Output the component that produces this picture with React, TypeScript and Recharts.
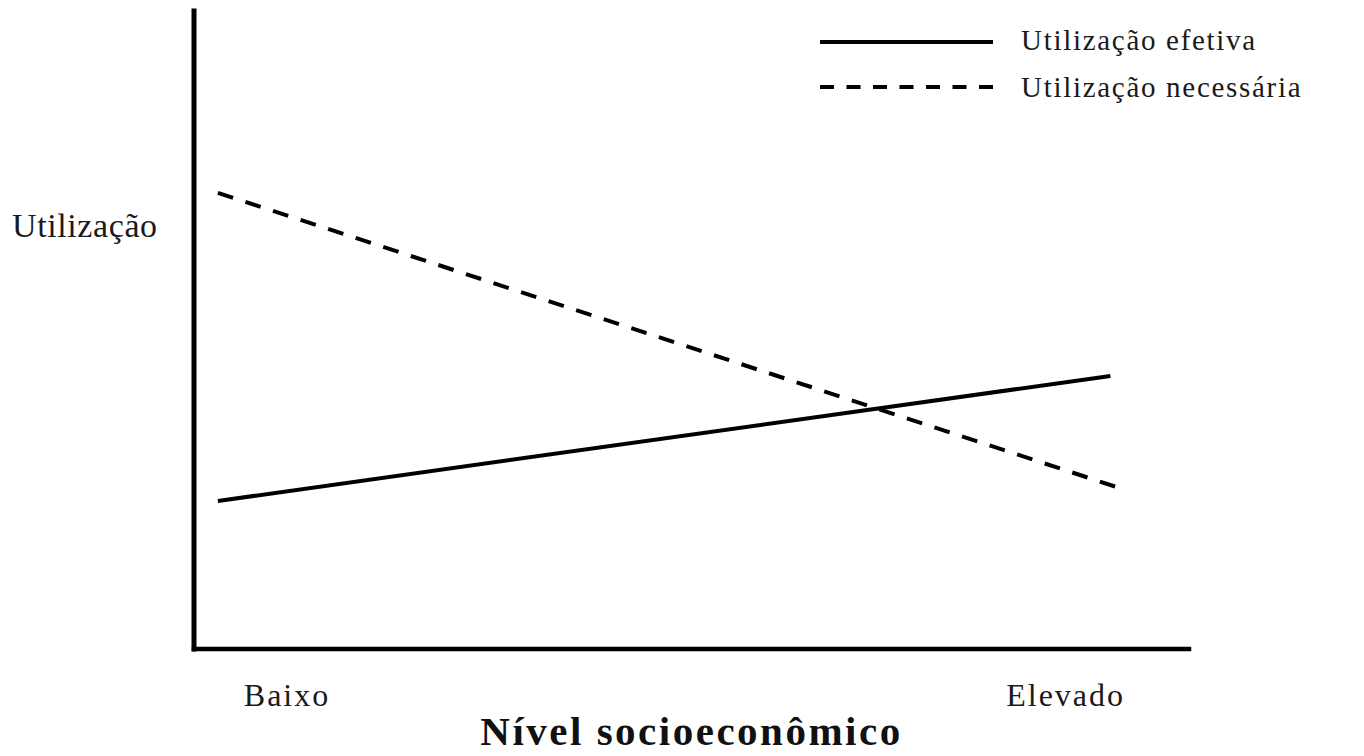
import React from 'react';
import { LineChart, Line, XAxis, YAxis, Legend } from 'recharts';

// x positions of the two tick labels on a 0-100 scale
const xTickValues = [9.35, 87.6];
const xTickLabels = ['Baixo', 'Elevado'];

// endpoints (0-100 on both axes)
const efetivaData = [
  { nivel: 2.4, valor: 23.2 },
  { nivel: 92.1, valor: 42.8 },
];
const necessariaData = [
  { nivel: 2.4, valor: 71.5 },
  { nivel: 92.7, valor: 25.4 },
];

const seriesNames = ['Utilização efetiva', 'Utilização necessária'];

const serif = "'Liberation Serif', 'DejaVu Serif', 'Times New Roman', serif";
const DASH = '16 13';

const XTitle = (props: any) => {
  const { viewBox } = props;
  return (
    <text
      x={viewBox.x + viewBox.width / 2}
      y={viewBox.y + 96}
      textAnchor="middle"
      fontFamily={serif}
      fontWeight="bold"
      fontSize={41}
      letterSpacing={2.5}
      fill="#111"
    >
      Nível socioeconômico
    </text>
  );
};

const YTitle = (props: any) => {
  const { viewBox } = props;
  return (
    <text
      x={viewBox.x + 12}
      y={237}
      fontFamily={serif}
      fontSize={34}
      letterSpacing={0.6}
      fill="#1a1a1a"
    >
      Utilização
    </text>
  );
};

const LegendBox = () => (
  <svg width={1364} height={120}>
    <line x1={820} x2={993} y1={42} y2={42} stroke="#000" strokeWidth={4} />
    <text x={1021} y={50} fontFamily={serif} fontSize={29} letterSpacing={1.7} fill="#1a1a1a">
      {seriesNames[0]}
    </text>
    <line x1={820} x2={993} y1={87} y2={87} stroke="#000" strokeWidth={4} strokeDasharray="14 12.5" />
    <text x={1021} y={97} fontFamily={serif} fontSize={29} letterSpacing={1.7} fill="#1a1a1a">
      {seriesNames[1]}
    </text>
  </svg>
);

const App: React.FC = () => {
  return (
    <div style={{ width: 1364, height: 756, background: '#fff' }}>
      <style>{'body{margin:0}'}</style>
      <LineChart width={1364} height={756} margin={{ top: 11, right: 175, bottom: 0, left: 0 }}>
        <XAxis
          type="number"
          dataKey="nivel"
          domain={[0, 100]}
          allowDataOverflow
          ticks={xTickValues}
          tickFormatter={(v: number) => xTickLabels[xTickValues.indexOf(v)] ?? ''}
          tickLine={false}
          tickSize={6}
          tickMargin={28}
          height={107}
          axisLine={{ stroke: '#000', strokeWidth: 4.5, strokeLinecap: 'square' }}
          tick={{ fontSize: 32, fill: '#1a1a1a', fontFamily: serif, letterSpacing: 2 }}
          label={<XTitle />}
        />
        <YAxis
          type="number"
          dataKey="valor"
          domain={[0, 100]}
          allowDataOverflow
          width={194}
          tick={false}
          tickLine={false}
          axisLine={{ stroke: '#000', strokeWidth: 5, strokeLinecap: 'square' }}
          label={<YTitle />}
        />
        <Legend
          layout="horizontal"
          verticalAlign="middle"
          align="center"
          wrapperStyle={{ position: 'absolute', left: 0, top: 0, width: 1364, height: 120 }}
          content={() => <LegendBox />}
        />
        <Line
          data={efetivaData}
          dataKey="valor"
          name={seriesNames[0]}
          stroke="#000"
          strokeWidth={4}
          dot={false}
          activeDot={false}
          isAnimationActive={false}
        />
        <Line
          data={necessariaData}
          dataKey="valor"
          name={seriesNames[1]}
          stroke="#000"
          strokeWidth={4}
          strokeDasharray={DASH}
          dot={false}
          activeDot={false}
          isAnimationActive={false}
        />
      </LineChart>
    </div>
  );
};

export default App;
